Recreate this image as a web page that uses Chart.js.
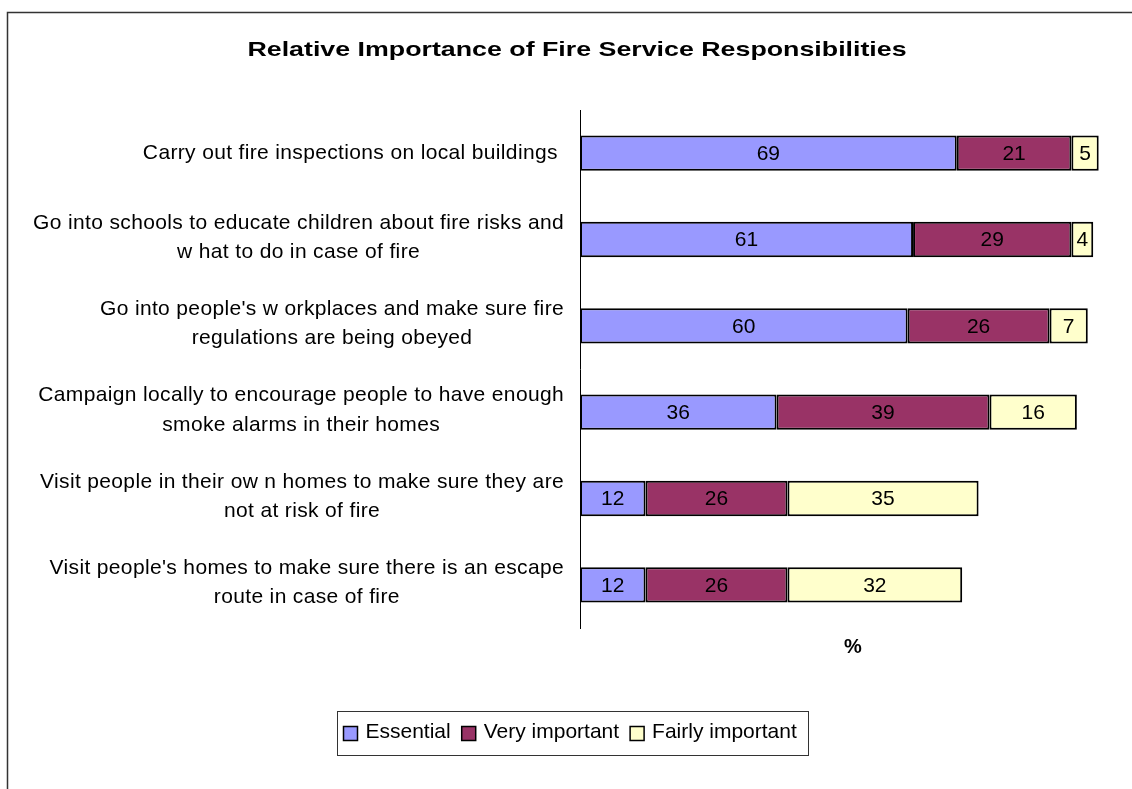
<!DOCTYPE html>
<html>
<head>
<meta charset="utf-8">
<title>Relative Importance of Fire Service Responsibilities</title>
<script src="https://cdn.jsdelivr.net/npm/chart.js@4"></script>
<style>
  html, body { margin: 0; padding: 0; background: #fff; }
  canvas { display: block; }
</style>
</head>
<body>
<canvas id="chart" width="1132" height="789"></canvas>
<script>
// Survey responses: share of people rating each responsibility (%)
const categories = [
  ["Carry out fire inspections on local buildings "],
  ["Go into schools to educate children about fire risks and", "w hat to do in case of fire"],
  ["Go into people's w orkplaces and make sure fire", "regulations are being obeyed"],
  ["Campaign locally to encourage people to have enough", "smoke alarms in their homes"],
  ["Visit people in their ow n homes to make sure they are", "not at risk of fire"],
  ["Visit people's homes to make sure there is an escape", "route in case of fire"]
];
const seriesNames = ["Essential", "Very important", "Fairly important"];
const essential = [69, 61, 60, 36, 12, 12];
const veryImportant = [21, 29, 26, 39, 26, 26];
const fairlyImportant = [5, 4, 7, 16, 35, 32];
const chartTitle = "Relative Importance of Fire Service Responsibilities";
const axisTitle = "%";

const seriesColors = ["#9999FF", "#993366", "#FFFFCC"];
const FONT = "'Liberation Sans', Arial, sans-serif";

// Outer frame and chart title
const framePlugin = {
  id: "frame",
  beforeDraw(chart) {
    const ctx = chart.ctx;
    ctx.save();
    ctx.fillStyle = "#fff";
    ctx.fillRect(0, 0, chart.width, chart.height);
    ctx.strokeStyle = "#333";
    ctx.lineWidth = 1.5;
    ctx.beginPath();
    ctx.moveTo(chart.width, 12.5);
    ctx.lineTo(7.5, 12.5);
    ctx.lineTo(7.5, chart.height);
    ctx.stroke();

    ctx.fillStyle = "#000";
    ctx.font = "bold 21px " + FONT;
    ctx.textAlign = "center";
    ctx.textBaseline = "middle";
    ctx.translate(577, 50);
    ctx.scale(1.275, 1);
    ctx.fillText(chartTitle, 0, 0);
    ctx.restore();
  }
};

// Category labels: each block right-aligned, its lines centred on one another
const categoryLabelPlugin = {
  id: "categoryLabels",
  afterDraw(chart) {
    const ctx = chart.ctx;
    const yScale = chart.scales.y;
    const rightEdge = chart.chartArea.left - 16;
    const lineH = 29.5;
    ctx.save();
    ctx.font = "21px " + FONT;
    if ("letterSpacing" in ctx) ctx.letterSpacing = "0.35px";
    ctx.fillStyle = "#000";
    ctx.textAlign = "center";
    ctx.textBaseline = "middle";
    categories.forEach((lines, i) => {
      const yc = yScale.getPixelForValue(i);
      const widest = Math.max(...lines.map(l => ctx.measureText(l).width));
      const cx = rightEdge - widest / 2;
      const shift = lines.length > 1 ? -2 : 0;
      const y0 = yc - (lines.length - 1) * lineH / 2 + shift;
      lines.forEach((l, k) => ctx.fillText(l, cx, y0 + k * lineH));
    });
    ctx.restore();
  }
};

// Value labels centred inside each bar segment
const valueLabelPlugin = {
  id: "valueLabels",
  afterDatasetsDraw(chart) {
    const ctx = chart.ctx;
    ctx.save();
    ctx.font = "21px " + FONT;
    ctx.fillStyle = "#000";
    ctx.textAlign = "center";
    ctx.textBaseline = "middle";
    chart.data.datasets.forEach((ds, di) => {
      const meta = chart.getDatasetMeta(di);
      meta.data.forEach((bar, i) => {
        const v = ds.data[i];
        const x = (bar.x + bar.base) / 2;
        ctx.fillText(String(v), x, bar.y + 1);
      });
    });
    ctx.restore();
  }
};

// Boxed legend below the plot
const legendPlugin = {
  id: "boxLegend",
  afterDraw(chart) {
    const ctx = chart.ctx;
    ctx.save();
    ctx.font = "21px " + FONT;
    const sw = 14, padL = 6, padR = 12, gapSwatch = 8, gapItem = 11;
    const widths = seriesNames.map(n => ctx.measureText(n).width);
    let total = padL + padR;
    widths.forEach((w, i) => { total += sw + gapSwatch + w + (i < widths.length - 1 ? gapItem : 0); });
    const cx = 573;
    const left = Math.round(cx - total / 2) + 0.5;
    const top = 711.5, h = 44;
    ctx.strokeStyle = "#333";
    ctx.lineWidth = 1;
    ctx.strokeRect(left, top, Math.round(total), h);
    let x = left + padL;
    const midY = top + h / 2 - 1;
    ctx.textAlign = "left";
    ctx.textBaseline = "middle";
    seriesNames.forEach((n, i) => {
      ctx.fillStyle = seriesColors[i];
      ctx.fillRect(x, midY - sw / 2 + 1, sw, sw);
      ctx.strokeStyle = "#000";
      ctx.lineWidth = 1.5;
      ctx.strokeRect(x, midY - sw / 2 + 1, sw, sw);
      x += sw + gapSwatch;
      ctx.fillStyle = "#000";
      ctx.fillText(n, x, midY);
      x += widths[i] + gapItem;
    });
    ctx.restore();
  }
};

const seriesValues = [essential, veryImportant, fairlyImportant];

new Chart(document.getElementById("chart"), {
  type: "bar",
  data: {
    labels: categories.map(l => l.join(" ")),
    datasets: seriesNames.map((name, i) => ({
      label: name,
      data: seriesValues[i],
      backgroundColor: seriesColors[i],
      borderColor: "#000",
      borderWidth: 2,
      borderSkipped: false,
      barPercentage: 0.41,
      categoryPercentage: 1
    }))
  },
  options: {
    indexAxis: "y",
    responsive: false,
    animation: false,
    layout: { padding: { left: 580, right: 6, top: 110, bottom: 126 } },
    plugins: {
      legend: { display: false },
      title: { display: false },
      tooltip: { enabled: false }
    },
    scales: {
      x: {
        stacked: true,
        min: 0,
        max: 100,
        grid: { display: false, drawTicks: false },
        border: { display: false },
        ticks: { display: false },
        title: {
          display: true,
          text: axisTitle,
          color: "#000",
          font: { family: FONT, size: 20, weight: "bold" },
          padding: { top: 7, bottom: 4 }
        }
      },
      y: {
        stacked: true,
        grid: { display: false, drawTicks: false },
        border: { display: true, color: "#000", width: 1 },
        ticks: { display: false }
      }
    }
  },
  plugins: [framePlugin, categoryLabelPlugin, valueLabelPlugin, legendPlugin]
});
</script>
</body>
</html>
